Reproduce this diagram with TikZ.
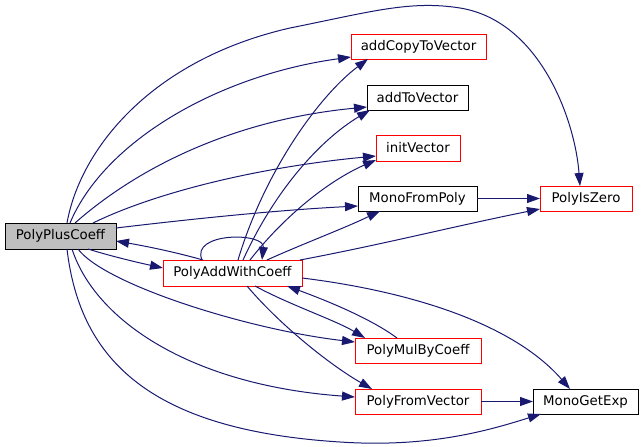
\documentclass[tikz,border=0pt]{standalone}
\usepackage{fontspec}
\setmainfont{DejaVu Sans}
\usetikzlibrary{arrows.meta,calc}
\definecolor{edgeblue}{HTML}{191970}
\definecolor{nodered}{HTML}{FF0000}
\definecolor{nodegray}{HTML}{BFBFBF}
\begin{document}
\begin{tikzpicture}[x=0.75pt,y=-0.75pt,
  fn/.style={draw, rectangle, line width=0.75pt, inner sep=0pt, outer sep=0pt,
    font=\fontsize{10}{12}\selectfont, minimum height=18.75pt},
  rednode/.style={fn, draw=nodered},
  blacknode/.style={fn, draw=black},
  rootnode/.style={fn, draw=black, fill=nodegray},
  edge/.style={draw=edgeblue, line width=0.75pt, -{Triangle[length=9.75pt,width=6.75pt]}}
]
\useasboundingbox (0,0) rectangle (644,447);

\node[rootnode, minimum width=83.25pt, minimum height=19.5pt] (ppc) at (60.5,236) {PolyPlusCoeff};
\node[rednode, minimum width=104.25pt, minimum height=19.5pt] (pawc) at (232.5,273) {PolyAddWithCoeff};
\node[rednode, minimum width=101.25pt] (acv) at (418.5,46.5) {addCopyToVector};
\node[blacknode, minimum width=75.75pt] (atv) at (417.5,97.5) {addToVector};
\node[rednode, minimum width=63pt, minimum height=19.5pt] (iv) at (418,148) {initVector};
\node[blacknode, minimum width=89.25pt] (mfp) at (417.5,198.5) {MonoFromPoly};
\node[rednode, minimum width=69pt] (piz) at (586,198.5) {PolyIsZero};
\node[rednode, minimum width=94.5pt] (pmc) at (418,350.5) {PolyMulByCoeff};
\node[rednode, minimum width=94.5pt] (pfv) at (418,401.5) {PolyFromVector};
\node[blacknode, minimum width=78.75pt] (mge) at (585.5,401.5) {MonoGetExp};

% from PolyPlusCoeff
\draw[edge] ($(ppc.north west)+(62,0)$) .. controls (80,150) and (150,60) .. (290,28) .. controls (370,12) and (410,0) .. (460,8) .. controls (540,21) and (575,120) .. ($(piz.north west)+(40,0)$);
\draw[edge] ($(ppc.north west)+(65,0)$) .. controls (105,140) and (220,75) .. ($(acv.south west)+(0,-2)$);
\draw[edge] ($(ppc.north west)+(70,0)$) .. controls (135,170) and (230,120) .. ($(atv.south west)+(0,-3)$);
\draw[edge] ($(ppc.north west)+(88,0)$) .. controls (150,195) and (250,168) .. ($(iv.south west)+(0,-5)$);
\draw[edge] ($(ppc.east)+(0,-8)$) .. controls (200,218) and (280,210) .. ($(mfp.west)+(0,7.5)$);
\draw[edge] ($(ppc.south west)+(83,0)$) .. controls (110,256) and (140,263) .. ($(pawc.west)+(0,-5)$);
\draw[edge] ($(ppc.south west)+(73,0)$) .. controls (105,285) and (250,330) .. ($(pmc.north west)+(0,4)$);
\draw[edge] ($(ppc.south west)+(67,0)$) .. controls (95,320) and (190,385) .. ($(pfv.west)+(0,-4.5)$);
\draw[edge] ($(ppc.south west)+(62,0)$) .. controls (80,360) and (150,430) .. (340,442) .. controls (430,448) and (490,430) .. ($(mge.south west)+(8,0)$);

% from PolyAddWithCoeff
\draw[edge] ($(pawc.north west)+(40,0)$) .. controls (175,252) and (145,246) .. ($(ppc.east)+(0,5)$);
\draw[edge] ($(pawc.north west)+(39,0)$) .. controls (190,232) and (265,232) .. ($(pawc.north west)+(99,0)$);
\draw[edge] ($(pawc.north west)+(75,0)$) .. controls (265,170) and (320,95) .. ($(acv.south west)+(17,0)$);
\draw[edge] ($(pawc.north west)+(80,0)$) .. controls (275,190) and (320,140) .. ($(atv.south west)+(3,0)$);
\draw[edge] ($(pawc.north west)+(87,0)$) .. controls (285,215) and (330,180) .. ($(iv.south west)+(0,-1)$);
\draw[edge] ($(pawc.north west)+(104,0)$) .. controls (300,245) and (345,228) .. ($(mfp.south west)+(22,0)$);
\draw[edge] ($(pawc.north east)+(-2,0)$) .. controls (380,245) and (460,225) .. ($(piz.south west)+(0,-2)$);
\draw[edge] ($(pawc.east)+(0,5)$) .. controls (400,290) and (510,320) .. ($(mge.north west)+(37,0)$);
\draw[edge] ($(pawc.south west)+(92,0)$) .. controls (290,305) and (335,320) .. ($(pmc.north west)+(10,0)$);
\draw[edge] ($(pawc.south west)+(84,0)$) .. controls (280,325) and (330,365) .. ($(pfv.north west)+(17,0)$);

% others
\draw[edge] ($(pmc.north west)+(42,0)$) .. controls (370,318) and (325,300) .. ($(pawc.south west)+(124,0)$);
\draw[edge] (mfp.east) -- (piz.west);
\draw[edge] (pfv.east) -- (mge.west);
\end{tikzpicture}
\end{document}
